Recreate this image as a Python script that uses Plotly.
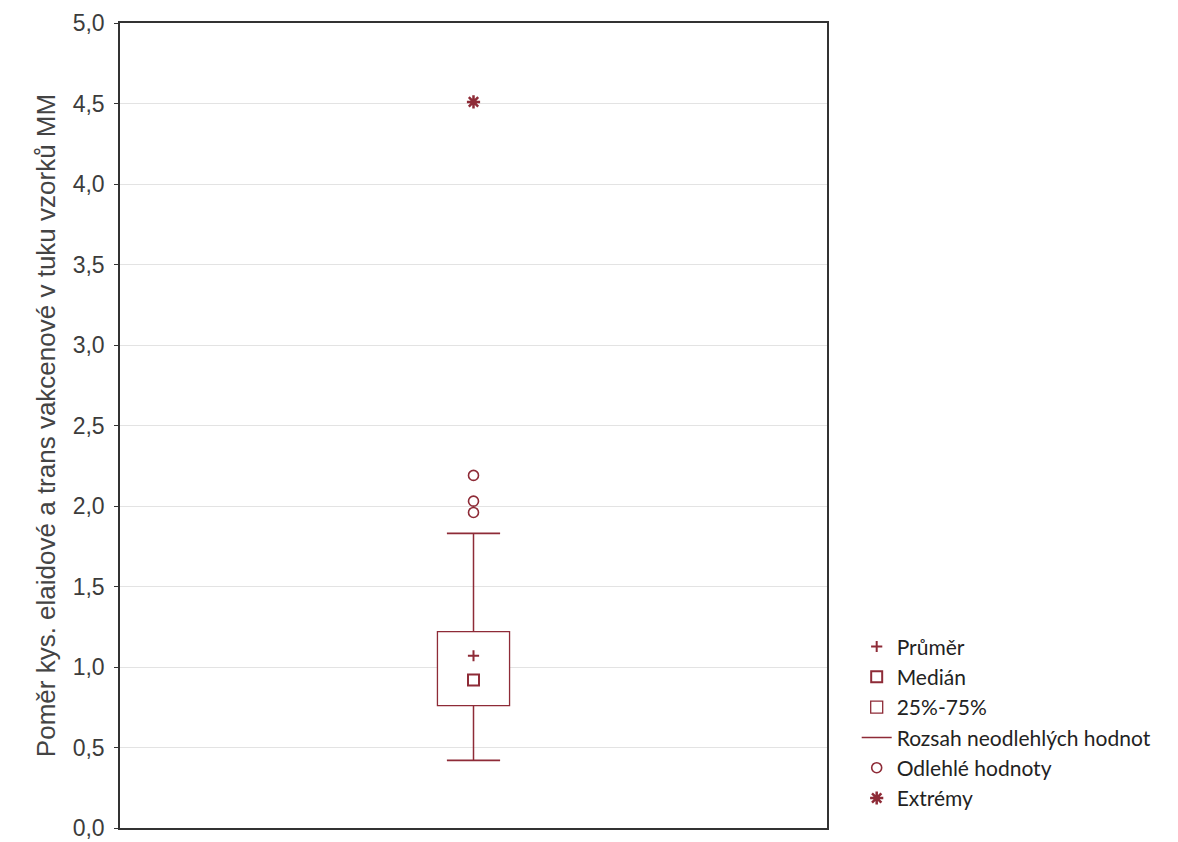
import plotly.graph_objects as go

# ---- data ----
category = [0]
q1 = [0.76]
q3 = [1.22]
median = [0.92]
mean = [1.07]
whisker_low = [0.42]
whisker_high = [1.83]
outliers = [2.19, 2.03, 1.96]
extremes = [4.51]
y_ticks = [0.0, 0.5, 1.0, 1.5, 2.0, 2.5, 3.0, 3.5, 4.0, 4.5, 5.0]

RED = "#8E2B37"
TICK_FONT = dict(family="Liberation Sans, Arial, sans-serif", size=23, color="#3c3c3c")
TITLE_FONT = dict(family="Liberation Sans, Arial, sans-serif", size=26, color="#444444")
LEG_FONT = dict(family="Lato, 'Open Sans', sans-serif", size=21, color="#222222")

fig = go.Figure()

# box 25%-75%
fig.add_trace(go.Bar(
    x=category, base=q1, y=[q3[0] - q1[0]], width=0.102,
    marker=dict(color="white", line=dict(color=RED, width=1.3)),
    name="25%-75%", legendrank=3,
    hoverinfo="skip",
))

# whiskers (vertical segments)
fig.add_trace(go.Scatter(
    x=[category[0], category[0], None, category[0], category[0]],
    y=[q3[0], whisker_high[0], None, q1[0], whisker_low[0]],
    mode="lines", line=dict(color=RED, width=1.5),
    name="Rozsah neodlehlých hodnot", legendrank=4,
))
# whisker caps
fig.add_trace(go.Scatter(
    x=[category[0], category[0]], y=[whisker_high[0], whisker_low[0]],
    mode="markers",
    marker=dict(symbol="line-ew", size=38, line=dict(color=RED, width=1.8)),
    showlegend=False,
))

# mean
fig.add_trace(go.Scatter(
    x=category, y=mean, mode="markers",
    marker=dict(symbol="cross-thin", size=8, line=dict(color=RED, width=2)),
    name="Průměr", legendrank=1,
))
# median
fig.add_trace(go.Scatter(
    x=category, y=median, mode="markers",
    marker=dict(symbol="square-open", size=11, color=RED, line=dict(color=RED, width=2)),
    name="Medián", legendrank=2,
))
# outliers
fig.add_trace(go.Scatter(
    x=[category[0]] * len(outliers), y=outliers, mode="markers",
    marker=dict(symbol="circle-open", size=10, color=RED, line=dict(color=RED, width=1.6)),
    name="Odlehlé hodnoty", legendrank=5,
))
# extremes
fig.add_trace(go.Scatter(
    x=[category[0]] * len(extremes), y=extremes, mode="markers",
    marker=dict(symbol="asterisk-open", size=11, color=RED, line=dict(color=RED, width=2.5)),
    name="Extrémy", legendrank=6,
))

fig.update_layout(
    width=1170, height=834,
    paper_bgcolor="white", plot_bgcolor="white",
    margin=dict(l=112, r=351, t=15, b=14, autoexpand=False),
    separators=", ",
    barmode="overlay",
    showlegend=True,
    legend=dict(
        x=1.042, y=0.012, xanchor="left", yanchor="bottom",
        font=LEG_FONT, bgcolor="rgba(0,0,0,0)",
        traceorder="normal",
        itemwidth=30,
    ),
    xaxis=dict(
        range=[-0.5, 0.5], showticklabels=False, ticks="",
        showgrid=False, zeroline=False,
        showline=True, linecolor="#333333", linewidth=1.5, mirror=True,
    ),
    yaxis=dict(
        range=[0, 5], tickvals=y_ticks, tickformat=".1f",
        ticks="outside", ticklen=4, tickcolor="#333333",
        ticklabelstandoff=5, ticklabeloverflow="allow",
        showgrid=True, gridcolor="#e3e3e3", gridwidth=1,
        zeroline=False,
        showline=True, linecolor="#333333", linewidth=1.5, mirror=True,
        tickfont=TICK_FONT,
        title=dict(text="Poměr kys. elaidové a trans vakcenové v tuku vzorků MM",
                   font=TITLE_FONT, standoff=10),
    ),
)

fig.write_html("out.html")
